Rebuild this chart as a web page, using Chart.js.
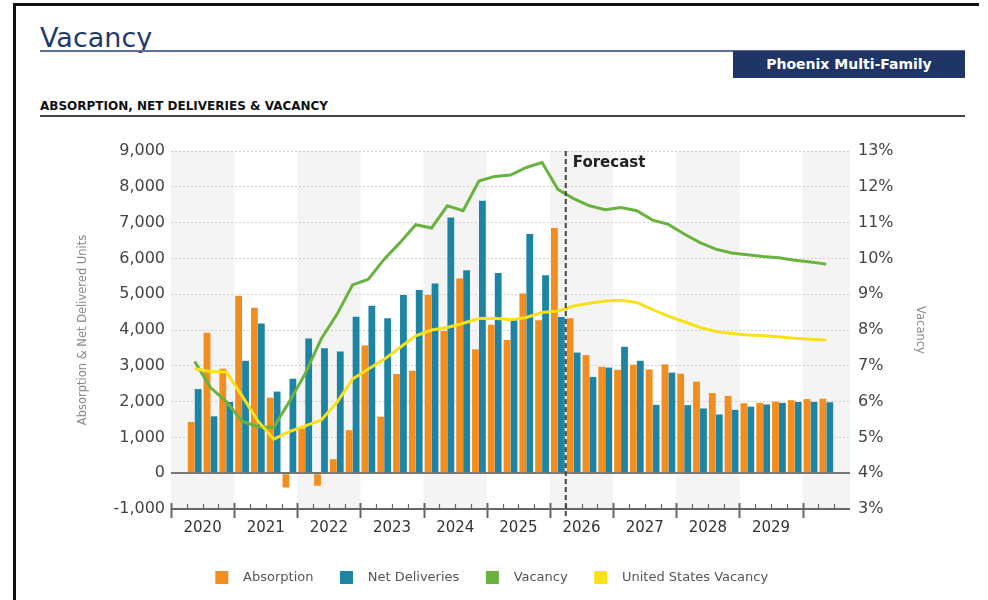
<!DOCTYPE html>
<html><head><meta charset="utf-8">
<script src="https://cdn.jsdelivr.net/npm/chart.js@4.4.1/dist/chart.umd.min.js"></script>
<style>
html,body{margin:0;padding:0;background:#fff;}
body{width:988px;height:600px;position:relative;overflow:hidden;font-family:"DejaVu Sans",sans-serif;}
.abs{position:absolute;}
</style></head><body>
<div class="abs" style="left:13px;top:3px;width:3px;height:597px;background:#111"></div>
<div class="abs" style="left:13px;top:3px;width:966px;height:3px;background:#111"></div>
<div class="abs" style="left:40px;top:24px;font-size:27px;line-height:27px;color:#1f3a6e;">Vacancy</div>
<div class="abs" style="left:40px;top:50px;width:925px;height:2px;background:#5b6d98"></div>
<div class="abs" style="left:733px;top:51px;width:232px;height:27px;background:#1e3566;color:#fff;font-weight:bold;font-size:14px;line-height:27px;text-align:center;">Phoenix Multi-Family</div>
<div class="abs" style="left:40px;top:100px;font-size:12px;line-height:12px;font-weight:bold;color:#111;">ABSORPTION, NET DELIVERIES &amp; VACANCY</div>
<div class="abs" style="left:40px;top:115px;width:925px;height:2px;background:#444"></div>
<div class="abs" style="left:0;top:0;width:988px;height:600px;"><canvas id="c"></canvas></div>
<script>
// ---- data ----
const years = ['2020','2021','2022','2023','2024','2025','2026','2027','2028','2029'];
const quarters = [];
for (let y = 2020; y <= 2030; y++) for (let q = 1; q <= 4; q++) if (quarters.length < 43) quarters.push(y + ' Q' + q);
// series occupy quarter slots 2020 Q2 ... 2030 Q2
const absorption = [1430, 3920, 2920, 4960, 4620, 2110, -400, 1250, -350, 390,
  1200, 3570, 1580, 2770, 2860, 4980, 3975, 5440, 3460, 4150,
  3720, 5020, 4270, 6850, 4330, 3300, 2970, 2890, 3030, 2900,
  3040, 2780, 2560, 2240, 2160, 1955, 1965, 2000, 2040, 2070, 2080];
const netDeliveries = [2350, 1590, 1990, 3140, 4180, 2280, 2640, 3760, 3490, 3400,
  4370, 4680, 4330, 4980, 5120, 5300, 7140, 5670, 7610, 5590,
  4270, 6680, 5530, 4360, 3370, 2690, 2950, 3530, 3140, 1910,
  2810, 1900, 1810, 1640, 1770, 1860, 1920, 1965, 1990, 1990, 1980];
const vacancy = [7.12, 6.39, 6.00, 5.45, 5.30, 5.28, 6.00, 6.78, 7.74, 8.43,
  9.26, 9.42, 9.98, 10.44, 10.94, 10.85, 11.47, 11.33, 12.16, 12.29,
  12.33, 12.54, 12.68, 11.93, 11.67, 11.47, 11.36, 11.42, 11.33, 11.07,
  10.95, 10.68, 10.44, 10.26, 10.15, 10.10, 10.05, 10.02, 9.95, 9.90, 9.84];
const usVacancy = [6.92, 6.84, 6.83, 6.16, 5.46, 4.95, 5.16, 5.32, 5.48, 5.97,
  6.63, 6.91, 7.18, 7.51, 7.84, 8.00, 8.07, 8.19, 8.32, 8.33,
  8.29, 8.35, 8.49, 8.53, 8.67, 8.75, 8.81, 8.83, 8.77, 8.57,
  8.39, 8.23, 8.07, 7.96, 7.90, 7.86, 7.84, 7.81, 7.77, 7.74, 7.72];
const forecastStart = '2026 Q2';

const ORANGE = '#F28D1F', BLUE = '#1D85A3', GREEN = '#6AB23E', YELLOW = '#F9E11A';
const pad = arr => [null, ...arr, null];
const FONT = '"DejaVu Sans", sans-serif';

const decor = {
  id: 'decor',
  beforeDraw(chart) {
    const {ctx, chartArea: a, scales: {x}} = chart;
    const n = quarters.length, slot = (a.right - a.left) / n;
    ctx.save();
    ctx.fillStyle = '#f4f4f4';
    for (let k = 0; k * 4 < n; k += 2) {
      const x0 = x.getPixelForValue(k * 4) - slot / 2;
      const x1 = Math.min(x.getPixelForValue(k * 4 + 3) + slot / 2, a.right);
      ctx.fillRect(x0, a.top, x1 - x0, a.bottom - a.top);
    }
    ctx.restore();
  },
  afterDatasetsDraw(chart) {
    const {ctx, chartArea: a, scales: {x}} = chart;
    const n = quarters.length, slot = (a.right - a.left) / n;
    ctx.save();
    // bottom axis line with quarter/year ticks
    ctx.strokeStyle = '#666'; ctx.lineWidth = 2;
    ctx.beginPath(); ctx.moveTo(a.left, a.bottom); ctx.lineTo(a.right, a.bottom); ctx.stroke();
    ctx.lineWidth = 1.5;
    for (let i = 0; i < n; i++) {
      const px = Math.round(x.getPixelForValue(i) - slot / 2) + 0.5;
      ctx.beginPath();
      if (i % 4 === 0) { ctx.lineWidth = 2; ctx.moveTo(px, a.bottom - 6); ctx.lineTo(px, a.bottom + 9); }
      else { ctx.lineWidth = 1.2; ctx.moveTo(px, a.bottom - 5); ctx.lineTo(px, a.bottom); }
      ctx.stroke();
    }
    // forecast divider
    const fi = quarters.indexOf(forecastStart);
    const fx = x.getPixelForValue(fi) - slot / 2;
    ctx.strokeStyle = '#444'; ctx.lineWidth = 2; ctx.setLineDash([5, 3]);
    ctx.beginPath(); ctx.moveTo(fx, a.top); ctx.lineTo(fx, a.bottom + 8); ctx.stroke();
    ctx.setLineDash([]);
    ctx.fillStyle = '#222'; ctx.font = 'bold 15px ' + FONT; ctx.textBaseline = 'alphabetic';
    ctx.fillText('Forecast', fx + 7, a.top + 16);
    ctx.restore();
  }
};

Chart.defaults.font.family = FONT;
new Chart(document.getElementById('c'), {
  type: 'bar',
  data: {
    labels: quarters,
    datasets: [
      {label: 'Absorption', data: pad(absorption), backgroundColor: ORANGE, yAxisID: 'y', order: 3,
        categoryPercentage: 0.88, barPercentage: 0.98},
      {label: 'Net Deliveries', data: pad(netDeliveries), backgroundColor: BLUE, yAxisID: 'y', order: 3,
        categoryPercentage: 0.88, barPercentage: 0.98},
      {type: 'line', label: 'Vacancy', data: pad(vacancy), yAxisID: 'y1', borderColor: GREEN, backgroundColor: GREEN,
        borderWidth: 3, pointRadius: 0, tension: 0, order: 1, spanGaps: false},
      {type: 'line', label: 'United States Vacancy', data: pad(usVacancy), yAxisID: 'y1', borderColor: YELLOW, backgroundColor: YELLOW,
        borderWidth: 3, pointRadius: 0, tension: 0, order: 0, spanGaps: false}
    ]
  },
  options: {
    responsive: true, maintainAspectRatio: false, animation: false,
    layout: {padding: {left: 70, right: 58, top: 151, bottom: 6}},
    plugins: {
      tooltip: {enabled: false},
      legend: {
        position: 'bottom',
        labels: {
          boxWidth: 13, boxHeight: 13, padding: 10, color: '#555', font: {size: 13},
          generateLabels(chart) {
            const items = Chart.defaults.plugins.legend.labels.generateLabels(chart);
            items.forEach(it => { it.text = '  ' + it.text + '    '; it.lineWidth = 0; it.strokeStyle = 'rgba(0,0,0,0)'; });
            return items.sort((p, q) => p.datasetIndex - q.datasetIndex);
          }
        }
      }
    },
    scales: {
      x: {
        type: 'category', offset: true,
        grid: {display: false, drawTicks: false}, border: {display: false},
        ticks: {autoSkip: false, maxRotation: 0, minRotation: 0, labelOffset: 7.9, padding: 10,
          color: '#333', font: {size: 15},
          callback: (v, i) => i % 4 === 1 ? (years[(i - 1) / 4] || '') : ''},
        afterFit: s => { s.height = 52; }
      },
      y: {
        position: 'left', min: -1000, max: 9000,
        ticks: {stepSize: 1000, padding: 6, color: '#444', font: {size: 16},
          callback: v => Number(v).toLocaleString('en-US')},
        grid: {drawTicks: false,
          color: c => c.tick && c.tick.value === 0 ? '#777' : (c.tick && c.tick.value === -1000 ? 'rgba(0,0,0,0)' : '#cfcfcf'),
          lineWidth: c => c.tick && c.tick.value === 0 ? 2 : 1},
        border: {display: false, dash: c => c.tick && c.tick.value === 0 ? [] : [2, 2]},
        title: {display: true, text: 'Absorption & Net Delivered Units', color: '#888', font: {size: 11.5}, padding: {top: 6, bottom: 0}},
        afterFit: s => { s.width = 101; }
      },
      y1: {
        position: 'right', min: 3, max: 13,
        ticks: {stepSize: 1, padding: 8, color: '#444', font: {size: 16}, callback: v => v + '%'},
        grid: {drawOnChartArea: false, drawTicks: false},
        border: {display: false},
        title: {display: true, text: 'Vacancy', color: '#888', font: {size: 11.5}, padding: {top: 3, bottom: 0}},
        afterFit: s => { s.width = 80; }
      }
    }
  },
  plugins: [decor]
});
</script>
</body></html>
